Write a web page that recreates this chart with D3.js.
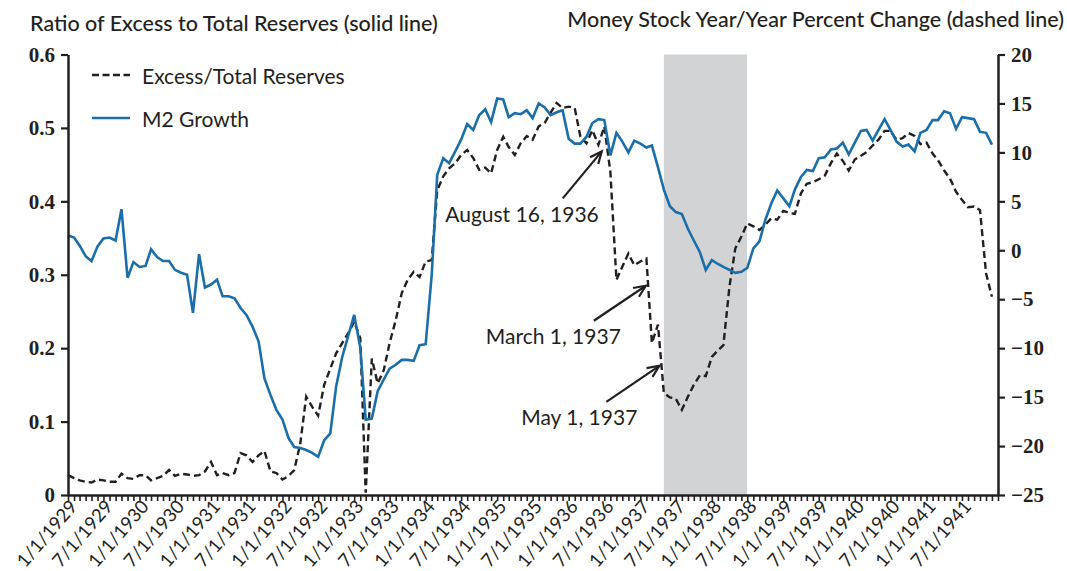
<!DOCTYPE html>
<html>
<head>
<meta charset="utf-8">
<script src="https://cdn.jsdelivr.net/npm/d3@7/dist/d3.min.js"></script>
<style>
  body { margin: 0; background: #fff; }
  text { fill: #231f20; }
</style>
</head>
<body>
<div id="chart"></div>
<script>
// monthly observations, Jan 1929 .. Dec 1941
var startMonth = "1929-01";

// M2 growth, year/year percent change (right axis, solid blue)
var m2Growth = [
   1.5,  1.3,  0.5, -0.6, -1.1,  0.4,  1.2,  1.3,  1.0,  4.2, -2.8, -1.2,
  -1.7, -1.6,  0.1, -0.7, -1.1, -1.1, -2.0, -2.3, -2.5, -6.4, -0.4, -3.8,
  -3.5, -3.0, -4.7, -4.7, -4.9, -5.9, -6.6, -7.8, -9.3,-13.1,-14.8,-16.3,
 -17.3,-19.2,-20.1,-20.2,-20.4,-20.7,-21.1,-19.4,-18.7,-13.9,-10.9, -8.8,
  -6.6, -9.9,-17.3,-17.2,-14.4,-13.2,-12.1,-11.7,-11.2,-11.2,-11.3, -9.7,
  -9.6, -2.5,  7.7,  9.4,  8.9, 10.1, 11.3, 12.9, 12.3, 13.8, 14.4, 13.1,
  15.5, 15.4, 13.6, 14.0, 13.9, 14.3, 13.5, 15.0, 14.6, 13.8, 14.1, 14.3,
  11.4, 10.9, 10.9, 11.6, 13.0, 13.4, 13.3,  9.7, 12.0, 11.1, 10.0, 11.2,
  10.9, 10.5, 10.7,  8.5,  6.2,  4.5,  3.9,  3.7,  2.2,  1.0, -0.2, -2.0,
  -1.0, -1.4, -1.7, -2.0, -2.3, -2.2, -1.8,  0.2,  0.9,  3.1,  4.8,  6.1,
   5.3,  4.5,  6.2,  7.5,  8.2,  8.1,  9.4,  9.5, 10.3, 10.4, 11.0,  9.8,
  11.0, 12.2, 12.3, 11.2, 12.3, 13.4, 12.3, 11.1, 10.6, 10.8, 10.1, 12.0,
  12.3, 13.3, 13.3, 14.2, 14.0, 12.4, 13.6, 13.5, 13.4, 12.1, 12.0, 10.8
];

// ratio of excess to total reserves (left axis, dashed black)
var excessRatio = [
  0.027,0.023,0.020,0.018,0.017,0.021,0.020,0.018,0.018,0.029,0.023,0.022,
  0.027,0.027,0.020,0.023,0.026,0.034,0.026,0.029,0.028,0.026,0.027,0.032,
  0.045,0.027,0.030,0.027,0.030,0.057,0.054,0.045,0.054,0.060,0.032,0.030,
  0.021,0.026,0.034,0.070,0.134,0.120,0.108,0.150,0.172,0.193,0.207,0.220,
  0.236,0.214,0.003,0.186,0.152,0.170,0.207,0.238,0.275,0.293,0.304,0.297,
  0.318,0.320,0.415,0.434,0.445,0.452,0.463,0.470,0.459,0.443,0.446,0.438,
  0.470,0.488,0.474,0.463,0.479,0.489,0.484,0.502,0.507,0.521,0.534,0.527,
  0.529,0.527,0.488,0.479,0.497,0.477,0.502,0.440,0.293,0.311,0.329,0.313,
  0.318,0.322,0.207,0.232,0.139,0.133,0.131,0.116,0.134,0.150,0.163,0.162,
  0.188,0.197,0.204,0.284,0.336,0.352,0.370,0.366,0.361,0.368,0.377,0.375,
  0.387,0.384,0.383,0.411,0.424,0.426,0.430,0.435,0.452,0.465,0.455,0.442,
  0.457,0.462,0.467,0.476,0.484,0.496,0.496,0.484,0.486,0.493,0.489,0.478,
  0.480,0.465,0.456,0.442,0.431,0.413,0.402,0.392,0.393,0.388,0.302,0.270
];

var leftTicks  = [0, 0.1, 0.2, 0.3, 0.4, 0.5, 0.6];
var rightTicks = [-25, -20, -15, -10, -5, 0, 5, 10, 15, 20];
var recession  = ["1937-05-01", "1938-06-30"];

var annotations = [
  { label: "August 16, 1936", date: "1936-06-18", value: 0.468, tail: [-39, 47], text: [-3, 71] },
  { label: "March 1, 1937",   date: "1937-01-29", value: 0.285, tail: [-52, 35], text: [-25, 58] },
  { label: "May 1, 1937",     date: "1937-04-08", value: 0.176, tail: [-53, 36], text: [-22, 59] }
];

var chartW = 1067, chartH = 571;
var padL = 68, padR = 998, padT = 54.5, padB = 495;

var parseMonth = d3.timeParse("%Y-%m");
var parseDay = d3.timeParse("%Y-%m-%d");
var first = parseMonth(startMonth);
var months = d3.range(m2Growth.length).map(function(i) { return d3.timeMonth.offset(first, i); });

var x = d3.scaleTime()
  .domain([first, d3.timeMonth.offset(first, 156)])
  .range([padL, padR]);
var yLeft = d3.scaleLinear().domain([0, 0.6]).range([padB, padT]);
var yRight = d3.scaleLinear().domain([-25, 20]).range([padB, padT]);

var svg = d3.select("#chart").append("svg")
  .attr("width", chartW)
  .attr("height", chartH)
  .style("font-family", "Lato, 'Open Sans', sans-serif");

// recession shading
svg.append("rect")
  .attr("x", x(parseDay(recession[0])))
  .attr("y", padT)
  .attr("width", x(parseDay(recession[1])) - x(parseDay(recession[0])))
  .attr("height", padB - padT)
  .style("fill", "#d1d3d4");

// titles
svg.append("text").attr("x", 30).attr("y", 31)
  .style("font-size", "21.5px").style("font-weight", 500)
  .text("Ratio of Excess to Total Reserves (solid line)");
svg.append("text").attr("x", 1064).attr("y", 27).attr("text-anchor", "end")
  .style("font-size", "21.5px").style("font-weight", 500)
  .text("Money Stock Year/Year Percent Change (dashed line)");

// lines
var m2Line = d3.line()
  .x(function(d, i) { return x(months[i]); })
  .y(function(d) { return yRight(d); });
var ratioLine = d3.line()
  .x(function(d, i) { return x(months[i]); })
  .y(function(d) { return yLeft(d); });

svg.append("path")
  .datum(excessRatio)
  .attr("d", ratioLine)
  .style("fill", "none")
  .style("stroke", "#231f20")
  .style("stroke-width", 2.4)
  .style("stroke-dasharray", "7,4");

svg.append("path")
  .datum(m2Growth)
  .attr("d", m2Line)
  .style("fill", "none")
  .style("stroke", "#1a6ea9")
  .style("stroke-width", 2.6);

// axes
function styleAxis(g) {
  g.select(".domain").style("stroke", "#231f20").style("stroke-width", 2.5);
  g.selectAll(".tick line").style("stroke", "#231f20").style("stroke-width", 2.2);
}

var gl = svg.append("g")
  .attr("transform", "translate(" + padL + ",0)")
  .call(d3.axisLeft(yLeft).tickValues(leftTicks).tickSize(7).tickSizeOuter(0).tickPadding(6)
    .tickFormat(function(d) { return d === 0 ? "0" : d3.format(".1f")(d); }));
styleAxis(gl);
gl.selectAll(".tick text")
  .style("font-family", "'Liberation Serif', serif")
  .style("font-weight", "bold")
  .style("font-size", "21px")
  .style("fill", "#231f20");

var gr = svg.append("g")
  .attr("transform", "translate(" + padR + ",0)")
  .call(d3.axisRight(yRight).tickValues(rightTicks).tickSize(7).tickSizeOuter(0).tickPadding(6)
    .tickFormat(function(d) { return d < 0 ? "\u2212" + Math.abs(d) : d; }));
styleAxis(gr);
gr.selectAll(".tick text")
  .style("font-family", "'Liberation Serif', serif")
  .style("font-weight", "bold")
  .style("font-size", "21px")
  .style("fill", "#231f20");

var tickMonths = d3.timeMonth.range(first, d3.timeMonth.offset(first, 157));
var gx = svg.append("g")
  .attr("transform", "translate(0," + padB + ")")
  .call(d3.axisBottom(x).tickValues(tickMonths).tickSize(6).tickSizeOuter(0)
    .tickFormat(function(d) {
      return (d.getMonth() % 6 === 0 && d.getFullYear() < 1942) ? d3.timeFormat("%-m/1/%Y")(d) : "";
    }));
styleAxis(gx);
gx.selectAll(".tick line").style("stroke-width", 1.6);
gx.selectAll(".tick text")
  .style("font-family", "Lato, sans-serif")
  .style("font-size", "18.5px")
  .style("fill", "#231f20")
  .attr("text-anchor", "end")
  .attr("y", 0)
  .attr("dy", "0.35em")
  .attr("transform", "translate(5,8) rotate(-49)");

// legend
var legend = svg.append("g").attr("transform", "translate(92,75)");
legend.append("line").attr("x1", 0).attr("x2", 38).attr("y1", 0).attr("y2", 0)
  .style("stroke", "#231f20").style("stroke-width", 2.3).style("stroke-dasharray", "7,3.5");
legend.append("text").attr("x", 50).attr("y", 9).style("font-size", "21px").text("Excess/Total Reserves");
legend.append("line").attr("x1", 0).attr("x2", 38).attr("y1", 43).attr("y2", 43)
  .style("stroke", "#1a6ea9").style("stroke-width", 2.6);
legend.append("text").attr("x", 50).attr("y", 52).style("font-size", "21px").text("M2 Growth");

// annotations with arrows
var notes = svg.selectAll(".note").data(annotations).enter().append("g").attr("class", "note");
notes.each(function(d) {
  var g = d3.select(this);
  var tx = x(parseDay(d.date)), ty = yLeft(d.value);
  var sx = tx + d.tail[0], sy = ty + d.tail[1];
  var ang = Math.atan2(ty - sy, tx - sx);
  var h = 13, spread = 0.42;
  g.append("line").attr("x1", sx).attr("y1", sy).attr("x2", tx).attr("y2", ty)
    .style("stroke", "#231f20").style("stroke-width", 2.2);
  g.append("path")
    .attr("d", "M" + (tx - h * Math.cos(ang - spread)) + "," + (ty - h * Math.sin(ang - spread)) +
               "L" + tx + "," + ty +
               "L" + (tx - h * Math.cos(ang + spread)) + "," + (ty - h * Math.sin(ang + spread)))
    .style("fill", "none").style("stroke", "#231f20").style("stroke-width", 2.2);
  g.append("text").attr("x", tx + d.text[0]).attr("y", ty + d.text[1])
    .attr("text-anchor", "end")
    .style("font-size", "21px")
    .text(d.label);
});
</script>
</body>
</html>
